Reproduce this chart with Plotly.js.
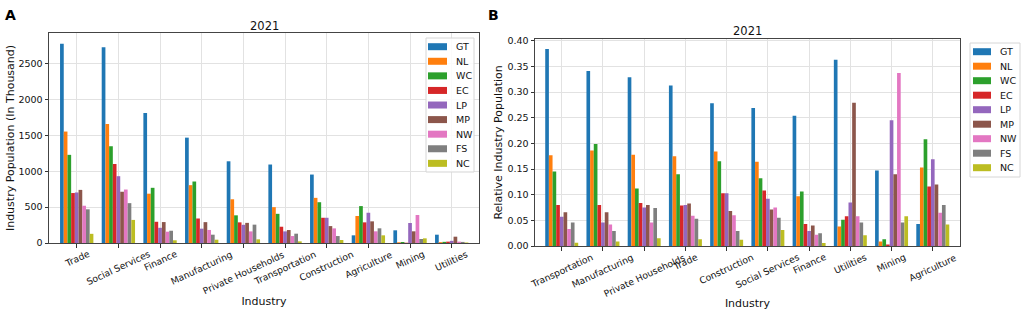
<!DOCTYPE html>
<html><head><meta charset="utf-8">
<script src="https://cdn.plot.ly/plotly-3.0.1.min.js"></script>
<style>html,body{margin:0;padding:0;background:#fff}#chart{width:1021px;height:319px}</style>
</head><body><div id="chart"></div>
<script>
// ---------- data ----------
const regions = ["GT","NL","WC","EC","LP","MP","NW","FS","NC"];
const colors = ["#1f77b4","#ff7f0e","#2ca02c","#d62728","#9467bd","#8c564b","#e377c2","#7f7f7f","#bcbd22"];

// Panel A: industry population (in thousand)
const industriesA = ["Trade","Social Services","Finance","Manufacturing","Private Households","Transportation","Construction","Agriculture","Mining","Utilities"];
const gtA = [2780, 2730, 1815, 1470, 1140, 1095, 955, 107, 177, 116];
const nlA = [1555, 1660, 688, 807, 610, 500, 630, 377, 10, 12];
const wcA = [1230, 1350, 770, 858, 386, 407, 569, 515, 14, 16];
const ecA = [697, 1102, 296, 342, 288, 227, 352, 288, 4, 19];
const lpA = [705, 932, 212, 200, 254, 162, 352, 422, 279, 30];
const mpA = [741, 715, 292, 291, 281, 181, 236, 302, 163, 88];
const nwA = [520, 746, 158, 182, 162, 97, 204, 163, 391, 19];
const fsA = [470, 556, 171, 116, 256, 130, 97, 205, 56, 15];
const ncA = [128, 322, 38, 46, 51, 23, 42, 107, 65, 7];

// Panel B: relative industry population
const industriesB = ["Transportation","Manufacturing","Private Households","Trade","Construction","Social Services","Finance","Utilities","Mining","Agriculture"];
const gtB = [0.384, 0.341, 0.329, 0.313, 0.278, 0.269, 0.254, 0.363, 0.147, 0.043];
const nlB = [0.177, 0.186, 0.178, 0.175, 0.184, 0.164, 0.097, 0.038, 0.009, 0.153];
const wcB = [0.145, 0.199, 0.112, 0.140, 0.165, 0.132, 0.106, 0.051, 0.013, 0.208];
const ecB = [0.080, 0.080, 0.084, 0.079, 0.103, 0.108, 0.043, 0.058, 0.003, 0.116];
const lpB = [0.057, 0.046, 0.075, 0.080, 0.103, 0.092, 0.029, 0.085, 0.245, 0.169];
const mpB = [0.066, 0.066, 0.080, 0.083, 0.068, 0.071, 0.040, 0.279, 0.140, 0.120];
const nwB = [0.033, 0.042, 0.046, 0.059, 0.060, 0.075, 0.022, 0.058, 0.337, 0.065];
const fsB = [0.046, 0.029, 0.074, 0.053, 0.029, 0.055, 0.025, 0.046, 0.046, 0.080];
const ncB = [0.0065, 0.009, 0.015, 0.013, 0.012, 0.031, 0.006, 0.021, 0.058, 0.042];

const yTicksA = [0, 500, 1000, 1500, 2000, 2500];
const yTicksB = [0, 0.05, 0.10, 0.15, 0.20, 0.25, 0.30, 0.35, 0.40];

// ---------- build ----------
const W = 1021, H = 319;
const FONT = "DejaVu Sans, sans-serif";
const TICK_SIZE = 9.5;
const CAT_SIZE = 9.2;
const seriesA = [gtA, nlA, wcA, ecA, lpA, mpA, nwA, fsA, ncA];
const seriesB = [gtB, nlB, wcB, ecB, lpB, mpB, nwB, fsB, ncB];

const traces = [];
regions.forEach((r, i) => {
  traces.push({type: "bar", name: r, x: industriesA, y: seriesA[i], xaxis: "x", yaxis: "y",
    marker: {color: colors[i], line: {width: 0}}, showlegend: false});
});
regions.forEach((r, i) => {
  traces.push({type: "bar", name: r, x: industriesB, y: seriesB[i], xaxis: "x2", yaxis: "y2",
    marker: {color: colors[i], line: {width: 0}}, showlegend: false});
});

const px = v => v / W;
const py = v => 1 - v / H;

const shapes = [];
const annotations = [];

function legend(box, symX0, symX1, textX, y0, step) {
  shapes.push({type: "rect", xref: "paper", yref: "paper", x0: px(box[0]), x1: px(box[2]),
    y0: py(box[1]), y1: py(box[3]), line: {color: "#d6d6d6", width: 1}, fillcolor: "rgba(255,255,255,0.85)", layer: "above"});
  regions.forEach((r, i) => {
    const yc = y0 + i * step;
    shapes.push({type: "rect", xref: "paper", yref: "paper", x0: px(symX0), x1: px(symX1),
      y0: py(yc + 3.5), y1: py(yc - 3.5), line: {width: 0}, fillcolor: colors[i], layer: "above"});
    annotations.push({xref: "paper", yref: "paper", x: px(textX), y: py(yc), text: r, showarrow: false,
      xanchor: "left", yanchor: "middle", font: {family: FONT, size: 9.5, color: "#111"}});
  });
}
legend([426, 38, 474, 172], 428, 447, 454, 46.7, 14.58);
legend([970, 43, 1020, 177], 973, 991, 998, 51.7, 14.5);

// rotated, centred category labels (matplotlib style: rotated bbox centred on tick, top at pad)
const ctx = document.createElement("canvas").getContext("2d");
ctx.font = CAT_SIZE + "px 'DejaVu Sans'";
const ANG = 25 * Math.PI / 180;
function catLabels(cats, xref, topPx) {
  cats.forEach((c, i) => {
    const w = ctx.measureText(c).width, h = CAT_SIZE * 1.17;
    const hr = w * Math.sin(ANG) + h * Math.cos(ANG);
    annotations.push({xref: xref, yref: "paper", x: i, y: py(topPx + hr / 2), text: c, showarrow: false,
      textangle: -25, xanchor: "center", yanchor: "middle", borderpad: 0,
      font: {family: FONT, size: CAT_SIZE, color: "#111"}});
  });
}
catLabels(industriesA, "x", 248.5);
catLabels(industriesB, "x2", 251.5);

annotations.push({xref: "paper", yref: "paper", x: px(264), y: py(26), text: "2021", showarrow: false,
  xanchor: "center", yanchor: "middle", font: {family: FONT, size: 11.5, color: "#111"}});
annotations.push({xref: "paper", yref: "paper", x: px(747), y: py(31), text: "2021", showarrow: false,
  xanchor: "center", yanchor: "middle", font: {family: FONT, size: 11.5, color: "#111"}});
annotations.push({xref: "paper", yref: "paper", x: px(10), y: py(15), text: "<b>A</b>", showarrow: false,
  xanchor: "center", yanchor: "middle", font: {family: FONT, size: 14, color: "#000"}});
annotations.push({xref: "paper", yref: "paper", x: px(493), y: py(15), text: "<b>B</b>", showarrow: false,
  xanchor: "center", yanchor: "middle", font: {family: FONT, size: 14, color: "#000"}});

const axisCommon = {
  showline: true, mirror: true, linecolor: "#444", linewidth: 1,
  ticks: "outside", ticklen: 3.5, tickcolor: "#333", tickwidth: 1,
  showgrid: true, gridcolor: "#e2e2e2", gridwidth: 1, zeroline: false,
  tickfont: {family: FONT, size: TICK_SIZE, color: "#111"}, automargin: false
};

const layout = {
  width: W, height: H, margin: {l: 0, r: 0, t: 0, b: 0},
  paper_bgcolor: "#fff", plot_bgcolor: "#fff",
  barmode: "group", bargap: 0.2, bargroupgap: 0,
  font: {family: FONT, color: "#111"},
  xaxis: Object.assign({}, axisCommon, {domain: [px(49), px(479)], anchor: "y", type: "category",
    range: [-0.665, 9.655], showticklabels: false,
    title: {text: "Industry", font: {family: FONT, size: 11, color: "#111"}, standoff: 50.6}}),
  yaxis: Object.assign({}, axisCommon, {domain: [py(243), py(33)], anchor: "x",
    range: [0, 2930], tickvals: yTicksA, ticktext: yTicksA.map(String),
    title: {text: "Industry Population (In Thousand)", font: {family: FONT, size: 11, color: "#111"}, standoff: 1.5}}),
  xaxis2: Object.assign({}, axisCommon, {domain: [px(535), px(960)], anchor: "y2", type: "category",
    range: [-0.648, 9.66], showticklabels: false,
    title: {text: "Industry", font: {family: FONT, size: 11, color: "#111"}, standoff: 49.3}}),
  yaxis2: Object.assign({}, axisCommon, {domain: [py(246), py(38.7)], anchor: "x2",
    range: [0, 0.404], tickvals: yTicksB, ticktext: yTicksB.map(v => v.toFixed(2)),
    title: {text: "Relative Industry Population", font: {family: FONT, size: 11, color: "#111"}, standoff: 2}}),
  shapes: shapes,
  annotations: annotations
};

Plotly.newPlot("chart", traces, layout, {displayModeBar: false, staticPlot: true});
</script>
</body></html>
